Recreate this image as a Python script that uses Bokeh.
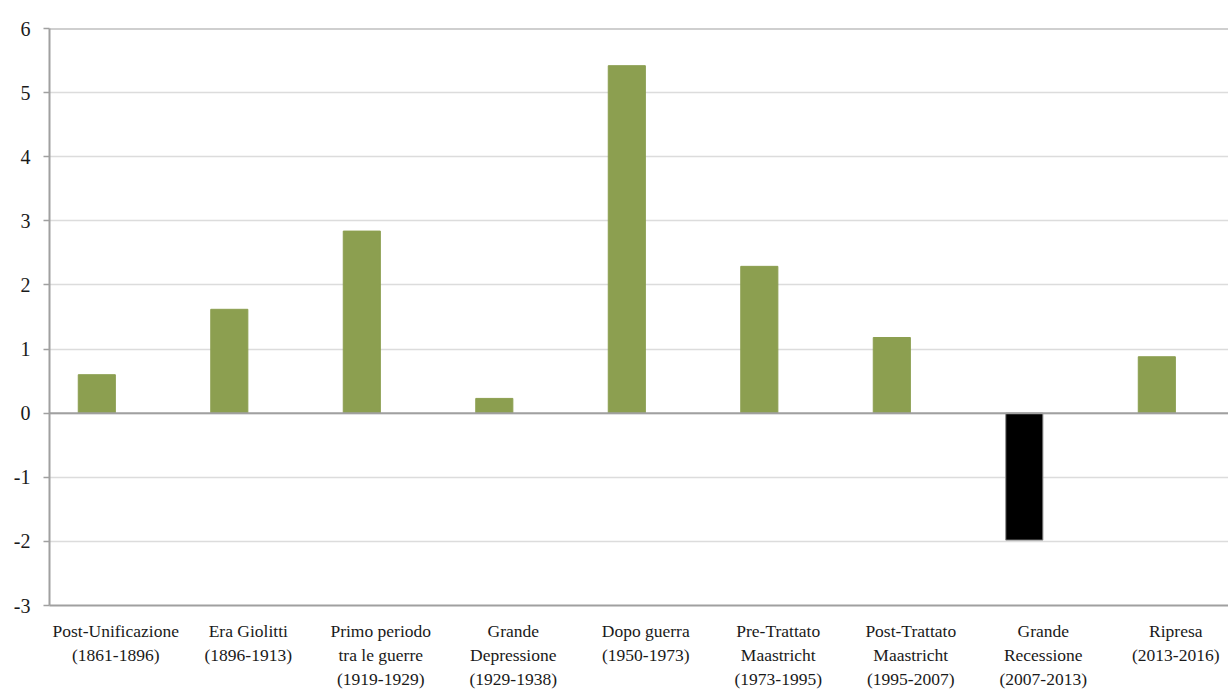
from bokeh.plotting import figure
from bokeh.models import Range1d, FixedTicker, Span, ColumnDataSource
from bokeh.embed import file_html
from bokeh.resources import INLINE

categories = [
    "Post-Unificazione\n(1861-1896)",
    "Era Giolitti\n(1896-1913)",
    "Primo periodo\ntra le guerre\n(1919-1929)",
    "Grande\nDepressione\n(1929-1938)",
    "Dopo guerra\n(1950-1973)",
    "Pre-Trattato\nMaastricht\n(1973-1995)",
    "Post-Trattato\nMaastricht\n(1995-2007)",
    "Grande\nRecessione\n(2007-2013)",
    "Ripresa\n(2013-2016)",
]
values = [0.60, 1.62, 2.84, 0.23, 5.42, 2.29, 1.18, -1.98, 0.88]
bar_colors = ["#8c9f50"] * 7 + ["#000000", "#8c9f50"]
y_ticks = [-3, -2, -1, 0, 1, 2, 3, 4, 5, 6]
y_tick_labels = ["-3", "-2", "-1", "0", "1", "2", "3", "4", "5", "6"]

FONT = "Liberation Serif"
idx = list(range(len(categories)))
offset = -0.143
src = ColumnDataSource(dict(x=[i + offset for i in idx], top=values, color=bar_colors,
                            line=["#8c9f50" if c != "#000000" else "#888888" for c in bar_colors]))

p = figure(width=1228, height=691, output_backend="svg", toolbar_location=None,
           x_range=Range1d(-0.5, 8.398), y_range=Range1d(-3, 6),
           min_border_left=49, min_border_right=0, min_border_top=28, min_border_bottom=86)
p.outline_line_color = None
p.background_fill_color = "white"
p.border_fill_color = "white"

p.vbar(x="x", top="top", bottom=0, width=0.28, source=src, fill_color="color",
       line_color="line", line_width=1)

# grid
p.xgrid.visible = False
p.ygrid.ticker = FixedTicker(ticks=y_ticks)
p.ygrid.grid_line_color = "#dcdcdc"
p.ygrid.grid_line_width = 1.5

for yv, w in [(0, 2), (6, 2)]:
    p.add_layout(Span(location=yv, dimension="width", line_color="#a0a0a0", line_width=w))

# y axis
p.yaxis.ticker = FixedTicker(ticks=y_ticks)
p.yaxis.major_label_overrides = {t: l for t, l in zip(y_ticks, y_tick_labels)}
p.yaxis.axis_line_color = "#a0a0a0"
p.yaxis.axis_line_width = 2
p.yaxis.major_tick_line_color = "#a0a0a0"
p.yaxis.major_tick_line_width = 1.5
p.yaxis.major_tick_in = 0
p.yaxis.major_tick_out = 6
p.yaxis.minor_tick_line_color = None
p.yaxis.major_label_standoff = 13
p.yaxis.major_label_text_font = FONT
p.yaxis.major_label_text_font_size = "20px"
p.yaxis.major_label_text_color = "#1a1a1a"

# x axis
p.xaxis.ticker = FixedTicker(ticks=idx)
p.xaxis.major_label_overrides = {i: c for i, c in zip(idx, categories)}
p.xaxis.axis_line_color = "#a0a0a0"
p.xaxis.axis_line_width = 2
p.xaxis.major_tick_line_color = None
p.xaxis.minor_tick_line_color = None
p.xaxis.major_label_standoff = 9
p.xaxis.major_label_text_font = FONT
p.xaxis.major_label_text_font_size = "17.5px"
p.xaxis.major_label_text_color = "#1a1a1a"
p.xaxis.major_label_text_line_height = 1.2

open("out.html", "w").write(file_html(p, INLINE))
